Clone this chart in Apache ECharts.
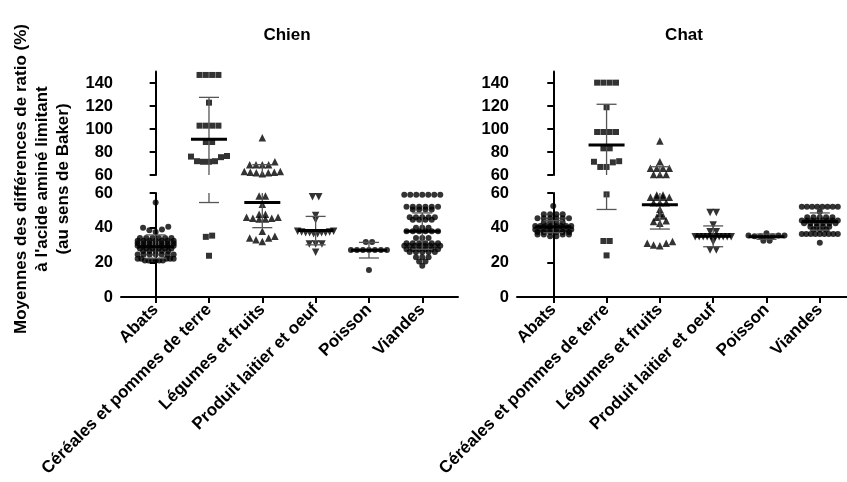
<!DOCTYPE html>
<html><head><meta charset="utf-8">
<script src="https://cdn.jsdelivr.net/npm/echarts@6/dist/echarts.min.js"></script>
<style>html,body{margin:0;padding:0;background:#fff}#c{width:847px;height:482px}</style>
</head><body><div id="c"></div>
<script>
// ---------- DATA ----------
const categories = ['Abats','Céréales et pommes de terre','Légumes et fruits','Produit laitier et oeuf','Poisson','Viandes'];
const panelTitles = ['Chien','Chat'];
const yTitleLines = ["Moyennes des différences de ratio (%)", "à l'acide aminé limitant", "(au sens de Baker)"];
const upperTicks = [60,80,100,120,140];
const lowerTicks = [0,20,40,60];

const chienAbats = [54.5, 40.5,40,39,38.5,37.5, 34,34,34,34,34,34, 32.5,32.5,32.5,32.5,32.5,32.5,32.5, 31,31,31,31,31,31,31,
  29.5,29.5,29.5,29.5,29.5,29.5,29.5, 28,28,28,28,28,28, 26.5,26.5,26.5,26.5,26.5, 24.5,24.5,24.5,24.5,24.5,24.5,24.5,
  22,22,22,22,22, 21,21,21,21,21,21];
const chienCereales = [147,147,147,147, 122.9, 102.9,102.9,102.9,102.9, 88.7,88.7, 76.5,75.5,72,71.5,71.5,72,76, 35.4,34.7, 23.8];
const chienLegumes = [92.4, 71.5,69,69,69,69, 63,62.5,62,61,62,62.5,63, 58.3,58.3, 53.5, 47.7,47.7, 46,45.5,45,45,45.5,46, 38, 35,34,32,33,34];
const chienProduit = [57.9,57.9, 47, 44.5, 38,37.5,37,37,36.5,36.5,37,37,37.5,38, 30.6,30.6,30.6, 25.8];
const chienPoisson = [31.7,31.7, 27.1,27.1,27.1,27.1,27.1,27.1,27.1, 15.6];
const chienViandes = [59,59,59,59,59,59,59, 52,52,52,52,52,52, 50.5,50.5,50.5,50.5, 46,46,46,46,46, 44.5,44.5,44.5,44.5,
  40,40,40, 38,38,38,38,38,38, 34,34,34, 31,31,31,31,31,31, 29.5,29.5,29.5,29.5,29.5,29.5,29.5,29.5,
  27.5,27.5,27.5,27.5,27.5,27.5, 26,26,26,26,26, 23,23,23, 20.5,20.5, 18];
const chienMean = [29, 91, 54.5, 38.3, 27, 38];
const chienSD   = [6.8, 36.5, 14.5, 8.2, 4.5, 10.5];

const chatAbats = [52.5, 47.8,47.8,47.8,47.8, 45.5,45.5,45.5,45.5,45.5,45.5, 43,43,43,43, 41,41,41,41,41,41,41,41,
  39,39,39,39,39,39,39,39, 37.5,37.5,37.5,37.5,37.5,37.5, 36,36,36,36, 35,35];
const chatCereales = [140.3,140.3,140.3,140.3, 118.9, 97.4,97.4,97.4,97.4, 83.2,83.2, 72,71.5,67,67,71, 59.2, 32.3,32.3, 24];
const chatLegumes = [89.6, 71.6, 65.8,65.8,65.8,65.8, 60.5,60.5,60.5, 58.8,58.8, 57.5,57.5,57.5,57.5, 54.4,54.4,54.4,
  50.6, 48.3, 46.7, 46, 44, 43.5, 42.5, 32, 31, 31, 30, 29.5];
const chatProduit = [48.8,48.8, 41.5, 37.7,37.7, 34.8,34.8,34.8,34.8,34.8,34.8,34.8,34.8,34.8,34.8, 31.9, 27.1,27.1];
const chatPoisson = [36.8, 35.5,35.5,35.5,35,35,35,35, 32.5,32.5];
const chatViandes = [52.1,52.1,52.1,52.1,52.1,52.1,52.1,52.1, 49.2, 46,46,46,46,46, 44.2,44.2,44.2,44.2,44.2,44.2,44.2,44.2,
  42.5,42.5,42.5,42.5,42.5,42.5, 40.6,40.6,40.6,40.6, 39,39,39, 36.3,36.3,36.3,36.3,36.3,36.3,36.3,36.3,36.3, 31.3];
const chatMean = [40.6, 86, 53.2, 35, 34.8, 43.5];
const chatSD   = [3.5, 35.5, 14, 6, 1.5, 5];

// ---------- LAYOUT / STYLE ----------
const FONT = "'Liberation Sans', Arial, sans-serif";
const BREAK = 60;
const panels = [
  {name: panelTitles[0], groups:[chienAbats,chienCereales,chienLegumes,chienProduit,chienPoisson,chienViandes], mean:chienMean, sd:chienSD,
   left:121, width:337, xMin:-0.65, xMax:5.67, titleX:287},
  {name: panelTitles[1], groups:[chatAbats,chatCereales,chatLegumes,chatProduit,chatPoisson,chatViandes], mean:chatMean, sd:chatSD,
   left:517, width:330, xMin:-0.68, xMax:5.51, titleX:684}
];
const segs = [
  {lo:60, hi:150, top:71.5, height:103.5, gapPx:5},   // upper
  {lo:0,  hi:60,  top:193,  height:104,   gapPx:2}    // lower
];
const symbols = [
  {symbol:'circle', size:6, rot:0},
  {symbol:'rect', size:6, rot:0},
  {symbol:'triangle', size:7.5, rot:0},
  {symbol:'triangle', size:7.5, rot:180},
  {symbol:'circle', size:6, rot:0},
  {symbol:'circle', size:6, rot:0}
];

// dot-plot (row) layout computed from the values
function swarm(values, catIdx, seg, unitPx) {
  const pxPerUnit = seg.height / (seg.hi - seg.lo);
  const inSeg = values.filter(v => seg.lo === 60 ? v > BREAK : v <= BREAK).slice().sort((a,b)=>a-b);
  const rows = [];
  inSeg.forEach((v,i) => {
    if (i === 0 || (v - inSeg[i-1]) * pxPerUnit > seg.gapPx) rows.push([v]);
    else rows[rows.length-1].push(v);
  });
  const out = [];
  rows.forEach(row => {
    const n = row.length;
    const sp = n > 1 ? Math.min(6.3, 36 / (n - 1)) : 0;
    const ks = [];
    for (let i = 0; i < n; i++) ks.push(i - (n - 1) / 2);
    ks.sort((a,b) => Math.abs(a) - Math.abs(b) || a - b);
    row.forEach((v, j) => out.push([catIdx + ks[j] * sp / unitPx, v]));
  });
  return out;
}

const grids = [], xAxes = [], yAxes = [], series = [], graphics = [];
panels.forEach((p, pi) => {
  const unitPx = p.width / (p.xMax - p.xMin);
  segs.forEach((s, si) => {
    const gi = pi * 2 + si;
    const isLower = si === 1;
    grids.push({left:p.left, top:s.top, width:p.width, height:s.height});
    xAxes.push({
      type:'value', gridIndex:gi, min:p.xMin, max:p.xMax, show:isLower,
      splitLine:{show:false},
      axisLine:{show:isLower, onZero:false, lineStyle:{color:'#000', width:2}},
      axisTick:{show:isLower, customValues:[0,1,2,3,4,5], length:6, lineStyle:{color:'#000', width:2}},
      axisLabel:{show:isLower, customValues:[0,1,2,3,4,5], rotate:45, margin:10,
        formatter: v => categories[Math.round(v)], color:'#000', fontFamily:FONT, fontWeight:'bold', fontSize:17}
    });
    const ticks = isLower ? lowerTicks : upperTicks;
    yAxes.push({
      type:'value', gridIndex:gi, min:s.lo, max:s.hi,
      splitLine:{show:false},
      axisLine:{show:true, lineStyle:{color:'#000', width:2}},
      axisTick:{show:true, customValues:ticks, length:6, lineStyle:{color:'#000', width:2}},
      axisLabel:{customValues:ticks, margin:8, color:'#000', fontFamily:FONT, fontWeight:'bold', fontSize:16.5}
    });
    p.groups.forEach((vals, ci) => {
      const sy = symbols[ci];
      series.push({
        type:'scatter', xAxisIndex:gi, yAxisIndex:gi, data: swarm(vals, ci, s, unitPx),
        symbol:sy.symbol, symbolSize:sy.size, symbolRotate:sy.rot,
        itemStyle:{color:'#000'}, silent:true, z:2
      });
    });
    // mean + SD error bars
    const ebData = p.mean.map((m, i) => [i, m, p.sd[i]]);
    series.push({
      type:'custom', xAxisIndex:gi, yAxisIndex:gi, data: ebData, z:5, silent:true,
      renderItem: (params, api) => {
        const i = api.value(0), m = api.value(1), sd = api.value(2);
        const lo = m - sd, hi = m + sd;
        const cl = v => Math.max(s.lo, Math.min(s.hi, v));
        const inside = v => v >= s.lo && v <= s.hi;
        const ch = [];
        const a = api.coord([i, cl(lo)]), b = api.coord([i, cl(hi)]);
        if (cl(hi) > cl(lo)) ch.push({type:'line', shape:{x1:a[0],y1:a[1],x2:b[0],y2:b[1]}, style:{stroke:'#555', lineWidth:1.3}});
        [lo, hi].forEach(v => {
          if (inside(v)) {
            const c = api.coord([i, v]);
            ch.push({type:'line', shape:{x1:c[0]-10,y1:c[1],x2:c[0]+10,y2:c[1]}, style:{stroke:'#555', lineWidth:1.3}});
          }
        });
        if (inside(m)) {
          const c = api.coord([i, m]);
          ch.push({type:'line', shape:{x1:c[0]-18,y1:c[1],x2:c[0]+18,y2:c[1]}, style:{stroke:'#000', lineWidth:3}});
        }
        return {type:'group', children:ch};
      }
    });
  });
  graphics.push({type:'text', x:p.titleX, y:35,
    style:{text:p.name, fill:'#000', font:"bold 17px "+FONT, textAlign:'center', textVerticalAlign:'middle'}});
});

const yTitleX = [21, 42, 63];
const yTitleCenter = 179;
yTitleLines.forEach((t, i) => {
  graphics.push({type:'text', x:yTitleX[i], y:yTitleCenter, rotation:Math.PI/2,
    style:{text:t, fill:'#000', font:"bold 17px "+FONT, textAlign:'center', textVerticalAlign:'middle'}});
});

const chart = echarts.init(document.getElementById('c'), null, {renderer:'canvas'});
chart.setOption({
  animation:false, backgroundColor:'#fff',
  grid:grids, xAxis:xAxes, yAxis:yAxes, series:series, graphic:graphics
});
</script></body></html>
